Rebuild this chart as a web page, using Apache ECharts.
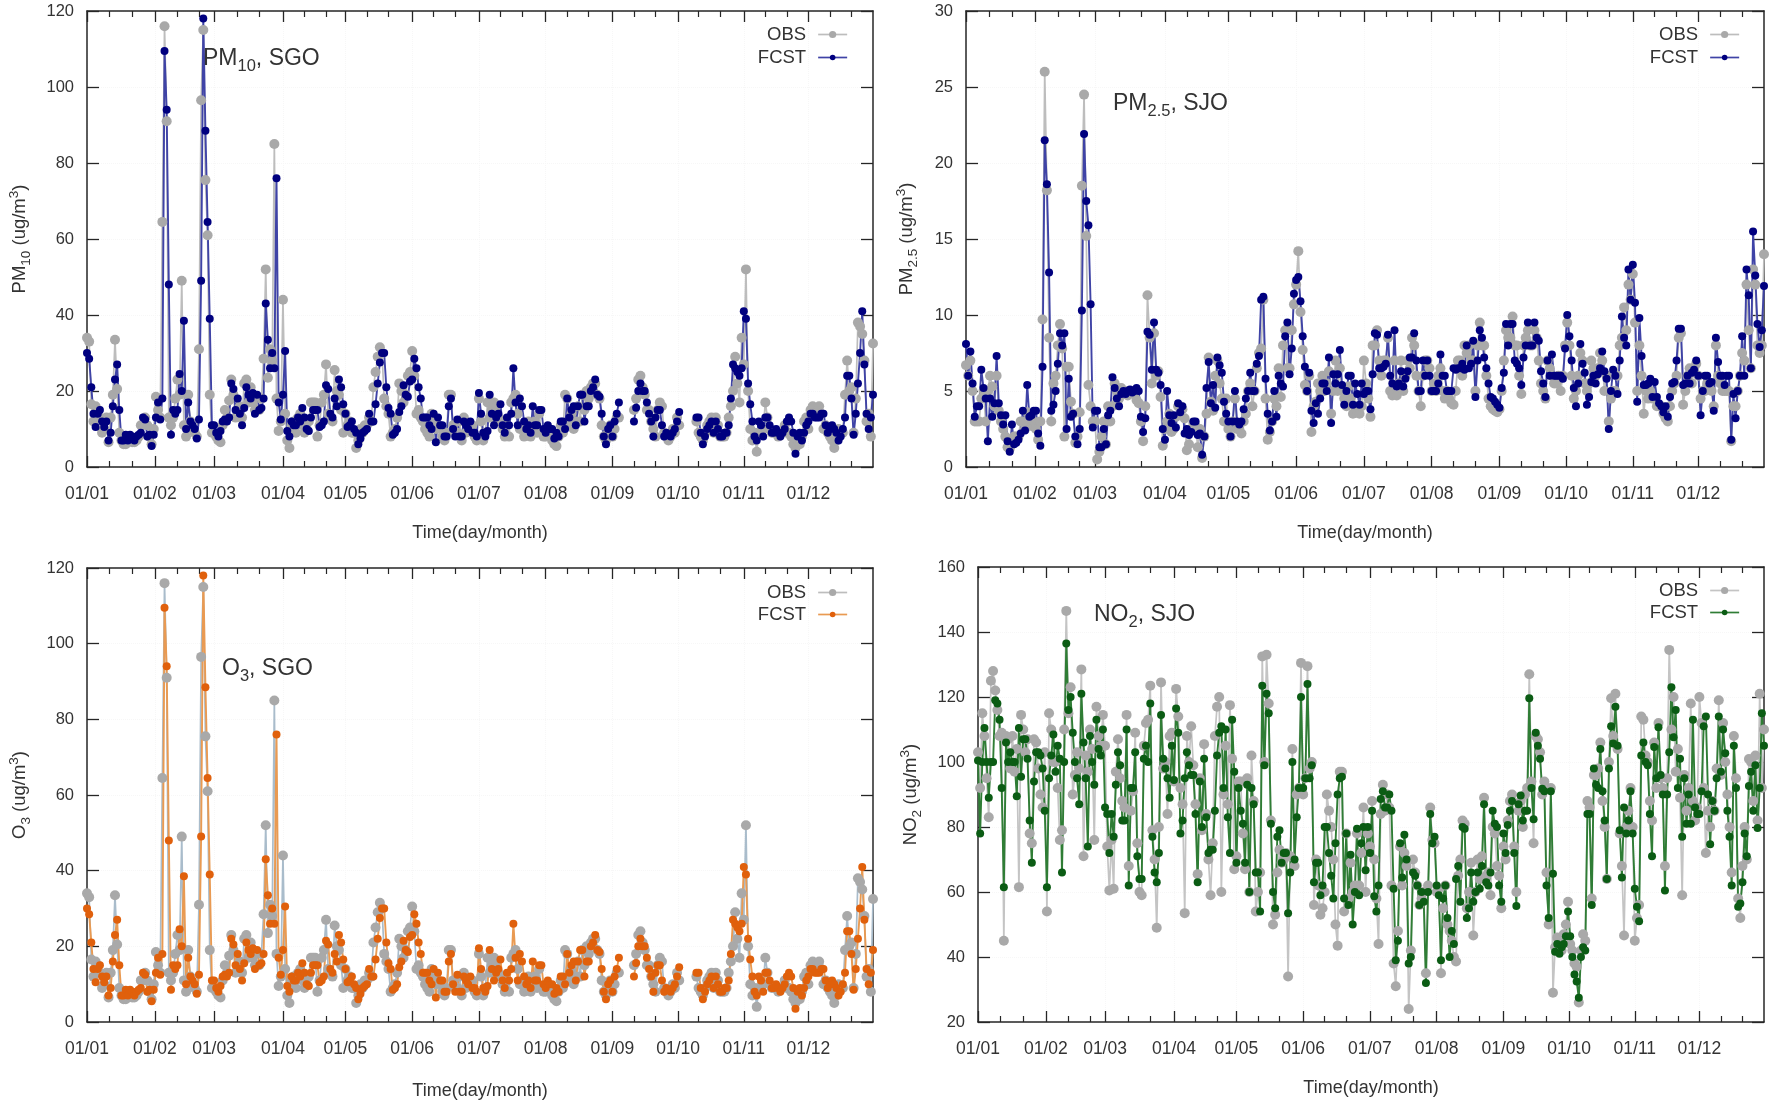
<!DOCTYPE html>
<html><head><meta charset="utf-8">
<style>html,body{margin:0;padding:0;background:#fff}#c{width:1772px;height:1103px;filter:blur(0.45px)}</style>
<script src="https://cdn.jsdelivr.net/npm/echarts@6/dist/echarts.min.js"></script>
</head><body><div id="c"></div>
<script>
const tickLabels=['01/01','01/02','01/03','01/04','01/05','01/06','01/07','01/08','01/09','01/10','01/11','01/12'];
const tickDays=[0,31.5,59,91,120,151,182,213,244,274.5,305,335];
const minorDays=[10.5,21,42,52,70,80,101,111,130,140,161,171,192,202,223,233,254,264,284,294,315,325,345,355];

const pm10Fcst=[
30,28.5,21,14,10.5,14,15,12,10.5,12,
7,9,16,23,27,15,7,7,8.5,7,
8.5,8,7,8,8.5,9,13,12.5,8,8.5,
5.5,8.5,13,17,12.5,18,109.5,94,48,8.5,
15,14,15,24.5,20,38.5,10,17,12,11,
10,7.5,12.5,49,118,88.5,64.5,39,11,11,
9,8,9.5,12,12.5,12,13,22,20.5,15,
18,14,11,15.5,21,19,18,19.5,14,19,
15,15.5,18,43,33.5,26,30,26,76,17,
12.5,19,30.5,9.5,8,12,11,11,13,12,
15.5,13,10,9.5,13,15,15,15,10.5,11,
12,21.5,20.5,14,13,18,16,23,21,16.5,
14,10.5,11,12,10,9,6,7.5,9,9.5,
10,14,12,12,16.5,22,27.5,30,30,21,
15.5,14,8.5,9,10,14.5,16,21.5,19,18.5,
22.5,23,28.5,26,21,18,13,13,13,11,
10,14,6.5,13,11,11,8,8,16,18,
10,8,12.5,8,8,12,11,10,12,9,
9,8,19.5,14,9,8,9.5,19,14,11,
13,14,16.5,11,9,13,11,14,26,17,
11,18,16,12,10,11,9,16,11,11,
15,15,10,9,11,10,10,7.5,9,8,
12,12,10,18,13,15,16,11,16,19,
19,12,16,16,20,21,23,19,18.5,14,
8,6,10,11,8,12,14,17,null,null,
null,null,null,null,12,15.6,20,22,20,20,
17,14,12,8,13,15,15,11,8,9,
8.5,8,9,10,12,14.5,null,null,null,null,
null,null,null,13,13,9,6,8,10,11,
12,9,12,10,8,8,9,9,11,18,
27,26,25,24,26,41,39,22,16.5,12,
8,7,12,11,8,13,13,11,9,9,
10,9,8,9,10,12,13,12,9,3.5,
8,9,7,9,11,12,14,14,13,13,
13,14,14,11,9,10,11,10,9,7,
8,10,13,24,24,18,8.5,14,22,30,
41,27,14,10,13,19];
const pm10Obs=[
34,33,16.5,12,16,15,13,9,10,13,
6.5,13,19,33.5,20.5,9,7,6,6,7,
7,6.5,6.5,7,8,11,11,13,11,8,
6,10,18.5,15,13,64.5,116,91,13,11,
13,18,23,19,49,11,8,19,12,10,
9,8,31,96.5,115,75.5,61,19,9,9,
8,7,6.5,11,15,13,17.5,23,19,13,
14,16,13,22,23,17,21,17,15,15,
15,18,28.5,52,23.5,31,28,85,18,9.5,
12,44,14,7,5,11,12,9,13,14,
11,9,10,12,17,17,17,8,11,17,
19,27,14,13,12,25.5,20,19,15,9,
14,11,12,9,9,5,7,10,9,11,
11,13,12,21,25,29,31.5,30,18,16,
14,8,9,10,13,22,20,17,19,24,
25,30.5,24,14,15,13,12,10,9,8,
14,12,10,11,10,8,7,9,19,19,
11,9,9,12,7,13,9,11,10,11,
8,7,18,12,7,9,17,13,15,17,
16,13,12,10,8,11,8,17,18,19,
14,10,11,8,9,12,8,10,12,9,
14,9,8,8,9,8,7,6,5.5,8,
11,9,19,18,11,14,10,12,16,12,
19,15,20,18,21,22,22,19,18,11,
8,7,9,11,8,10,13,13,null,null,
null,null,null,null,15,18,23,24,21,19,
15,15,12,10,8,15,17,16,9,8,
7,8,10,9,13,11,null,null,null,null,
null,null,null,12,9,8,7,9,11,12,
13,9,13,11,8,8,8,9,13,16,
20,29,22,17,34,27,52,20,10,7,
9,4,9,9,10,17,13,10,9,9,
9,8,9,9,11,9,9,8,6,5,
7,6,8,12,13,10,15,16,14,15,
16,14,10,11,9,8,7,5,7,10,
9,9,19,28,20,21,9,18,38,37,
35,28,12,14,8,32.5];
const pm25Fcst=[
8.1,6,7.6,5.5,3.3,4,4,6.4,5.2,4.5,
1.7,4.5,3.3,4.2,7.3,4.2,3.4,2.8,3.4,1.7,
1,2.8,1.5,1.6,1.8,2.2,3.7,2.4,5.4,3.3,
3.4,3.7,3.7,2.2,1.4,6.6,21.5,18.6,12.8,3.7,
4.1,5,6.8,8.8,8,8.8,2.5,5.8,3.3,3.5,
2,1.5,2.5,10.3,21.9,17.5,15.9,10.7,2.6,3.7,
3.7,1.3,1.3,2.5,1.5,3.4,3.7,5.9,5.2,4.5,
4,4.8,5,4.8,5,5.1,4.9,5,5.2,5,
3.3,2.3,3.2,8.9,8.7,6.4,9.5,6.4,6.2,5.4,
2.5,1.8,5,3.4,2.9,3.4,2.6,4.2,3.6,4,
2.2,2.5,2.1,2.3,3,3,2.1,2.2,0.8,2,
5.2,6.9,4.2,5.4,3.9,7.2,6.7,6.2,4.3,3.5,
3,2,3,5,3,2.8,3,3.8,4.5,5,
6.2,5,5,6.8,7.3,11,11.2,5.8,3.5,2.4,
3,5,3.3,6,5.5,5.3,8.6,9.5,6.1,7.8,
11.4,12.3,12.5,10.9,8.6,6.6,5,6.2,3.7,2.9,
4.2,3.5,4.5,5.5,5.5,5,7.2,2.9,6.1,5.5,
6.1,7.7,5.4,4.1,5,6,6,4.1,5.5,4.8,
4.1,5.5,4.8,5,5,3.8,6.1,8.8,8.7,6.5,
6.5,6.6,6.8,8.7,6,5.5,9,5.3,5.5,6.3,
5.3,5.8,6.3,7.2,7.2,8.8,7,5,5,7,
6,7,6,5,5,5,5.5,7.4,6,6,
5,5,5,6.5,6.4,6.5,6.5,6.8,6.4,8,
6.5,6.8,8.3,4.6,7,9,8.5,7.2,6.5,5.5,
4.6,4.5,4.3,4.1,3.9,5.2,6.2,9.4,8,9.4,
9.4,7,6.8,6.5,5.4,7.2,8,9.5,8,8,
9.5,8.5,8.3,6.3,5.5,4.6,7,6,7.4,6,
6,6,6,5.8,7.8,10,8.6,7,5.2,4,
5.5,8.1,6.8,6.2,4.1,4.6,5.6,6,5.5,6.1,
6.5,7.6,6.3,5.8,2.5,5,6.4,6,4.8,7,
9.9,8.5,8,13,11,13.3,10.8,4.3,9.8,7.3,
5.4,5.4,5.5,5.8,4.6,5.6,4.6,4.2,4,3.6,
4,3.3,4.6,5.5,5.6,7,9.1,9.1,5.4,5.5,
6,5.5,6.2,6.4,7,6,3.4,5,6,6,
5.5,5.6,3.7,8.5,6.9,6,6,5.4,6,6,
1.8,4.8,3.2,5,6,8.6,6,13,11.3,6.5,
15.5,12.6,9.4,7.9,9,11.9];
const pm25Obs=[
6.7,6,7,5,3,3,3,4.5,5,3,
5,6,5.3,4,6,3.7,3,2.5,2,1.3,
1.2,1.5,2,2,2,3,3,2.5,3.6,3,
2.7,3,2.5,1.8,3,9.7,26,18.2,8.5,3,
5.5,6,8,9.4,7.8,2,6.6,6.6,4.3,3.5,
1.6,2,3.6,18.5,24.5,15.2,5.4,4,3,3,
0.5,1,2,3,1.5,4,3,4,5.5,5,
4.5,5.2,4.8,5,4.7,5,5,4.8,4.4,4.2,
3,1.7,4,11.3,8.5,5.5,8.8,6,6.3,4.6,
1.4,2.5,3,3.5,2.3,2.5,3.3,4,4,3.8,
3.2,1.1,1.5,2.5,2.9,2.7,1.3,2.5,0.6,2,
3.5,7.2,4.3,3.7,6,7,5.5,4.5,3,4.5,
2.5,2,3,4.5,2.5,2.5,2.2,3,3.5,5,
5.5,4,5,6.5,7.5,7.8,11,4.5,1.8,2.3,
3,4.5,4,6.5,4.6,8,9,6.5,6.5,9,
10.7,12,14.2,10.2,7.7,5.4,5,6,2.3,4,
4.3,5.5,5,6,5,5.5,6.3,3.5,5,7,
5,6.5,5,4.5,4,5.3,4.5,3.5,4,3.7,
3.5,4,7,5.5,4.5,3.3,8,8,9,7,
6,7,7,8.5,5,4.7,7,4.7,5.5,7,
5,6,7,6.5,8.5,8,6,5,4,6,
7,7,6.5,5,5.5,5,6,6.5,5,4.5,
5,4.5,4.2,4.1,5,7,7,6,8,7.5,
8,7,7,5,8,9.5,8,8,6,4.5,
4,3.8,3.7,3.6,3.8,5,7,9,8.5,8.5,
9.9,8,8,6,4.8,8,8.5,9,8,8,
9,8.5,7,5.5,5,4.5,7,6.5,6,5.5,
5.5,6,5,6,8,9.5,8,6,4.5,5,
6,7.5,7,5.5,5,5.5,7,6.5,6,6.5,
7.5,7,5,6,3,4.5,5,5,6,8,
8.5,10.5,9,12,11,12.7,9.5,5,8,6,
3.5,5,4.5,5,4.5,4.5,4,4,4,3.5,
3.2,3,4,5,5.5,6,8.5,8.8,4.1,5,
6,6.5,5.5,6.5,6.8,6,4.5,5,5,5.5,
5.5,5,4,8,6,5.5,5,5,5,5,
1.7,4,4,5,6,7.5,7,12,9,6.5,
13,12,8,7.5,8,14];
const o3Fcst=pm10Fcst;
const o3Obs=pm10Obs;
const no2Fcst=[
100.5,78,100,110.5,100,89,100,100,119,118,
113,92,61.5,106,100,103,100,100,89.5,110.5,
95.5,107,107,101,82,69,94,103,103,102,
98,85,61.5,95,102,108.5,97,105,101,66,
100,136.5,116,120,109,100,95,87,121,106,
95,74,108,100,93,113,104,102,110,86,
84,72,84,77,93,103,99,82,82,110,
62,92,92,103,71,64,64,101,105,100,
118,77,66,63,72,114.5,101,98,95,89,
105,94.5,116.5,109,78,82,95,103,99,96,
96,84,63,94,80,101,83,72,73,73,
85,102,109,111,92,110,83,72,113,97,
69,92,85,81,69,93,60,92,87,66,
66,54,123.5,99,121,115,81,60,55,77,
79,69,72,72,53.5,66,100,70,83,92,
120,92,95,124,95,99,63,69,69,59,
62,80,80,72,65,58,75,90,95,95.5,
58,78,56,71.5,50,60,79.5,59,75,80,
66.7,80,72,85,58.7,54,62,88.6,91,86,
86,90,85,61,39,45,75,64.5,77.6,70,
38,40,66,65,62,56,60,57,32,60,
84,75,77,62,59,39,58,62,52,40,
48,44,64,68,57,80,79.5,52,55,66,
57,60,66,61,68,87,63,62,66,85,
81,80,62,57,78,72,80.6,85,88,72,
55.7,87,89.7,82,85,85,119.6,92,82.4,109,
105,101,91.8,91,62,52,91,65.6,41.6,44,
41,43,44,46.4,54,46.4,40,34.6,32.5,27.5,
40,43,42,84,84,56,98,93,92,104,
91,82,64,98,111,105.7,117,105,79,64.5,
86,78,82,91,78,61,55.5,51,102,106,
100,99,84,71,104.6,95,110.7,96,90,60.5,
90,103,123,107.6,116,92,101,77,95,81,
90,81,113,86,84,84,91,111,114,90,
74.7,88,85,95,114,97,110,102.7,85,77,
62,105,92,55.5,56.5,63,78,71,92.6,97,
85,99,79.7,92,115,105];
const no2Obs=[
103,92,115,108,95,83,125,128,122,116,
108,109,45,108,107,98,108,97,104,61.5,
114.5,110,103,107,78,75,107,106,98,90,
86,103,54,115,110,100,100,92,76,79,
110,146.5,115,123,90,96,103,98,128.5,71,
102,97,110,104,76,117,108,105,114.5,105,
74,60.5,76,61,97,107,95,88,86,114.5,
68,85,91,109,75,60,59,105,112,113,
123.5,79,70,49,80,124.5,98,100,84,108,
109,94,122.5,114,92,87,53.5,108,100,111,
99,87,65.5,95,79,105.5,84,70,59,75,
108,117,120,60,90,105,87,117.5,101,67,
71,94,94,78,67,95,60,102,88,54,
60,66,132.5,100,133,118,82,50,53,66,
73,69,70,72,34,71,104,68,90,92,
130.5,90,95,129.5,98,100,56,70,62,53,
55,60,90,85,80,70,50,43.5,97,97,
54,78,58,69,60,62,78,62,72,86,
60,78,74,88,70,58,44,84,93,85,
90,86,62,38,31,48,74,62,72,68,
24,42,70,66,62,56,58,60,35,62,
86,76,75,60,61,35,55,62,50,48,
45,40,38.6,65,70,82,81,55,60,69,
46.6,60,70,64,71,89,65,66,59,80,
78,68,65,55,74,70,82,88,90,74,
60,85,88,80,90,92,127,94,75,108,
107,103,90,94,66,50,92,29,43,46,
45,42,47,50,57,44,42,38,37,26,
42,47,45,88,86,58,96,96,98,106,
88,80,64,100,119.6,108,121,104,78,68,
46.6,80,85,92,80,45,52,56,114,113,
102,100,88,82,106,92,112,95,92,68,
95,134.5,110,120,97,104,89,59,96,85,
92,118,88,82,86,120,112,92,72,85,
80,88,85,98,119,96,112,100,90,80,
66,108,95,58,52,68,80,70,100.9,100,
88,102,82,121,92,110];

const FONT='"Liberation Sans",Arial,sans-serif', TXT='#333', FRAME='#262626';
const panels=[
 {g:[87,11,786,456],yMin:0,yMax:120,yInt:20,obs:pm10Obs,fcst:pm10Fcst,name:'PM{s|10} (ug/m{p|3})',gap:54,xGap:57,
  tag:'PM{s|10}, SGO',tx:203,ty:43,mark:'#00007f',line:'#3f43a6',obsLine:'#bdbdbd',legR:924,legT:[25,48]},
 {g:[966,11,798,456],yMin:0,yMax:30,yInt:5,obs:pm25Obs,fcst:pm25Fcst,name:'PM{s|2.5} (ug/m{p|3})',gap:46,xGap:57,
  tag:'PM{s|2.5}, SJO',tx:1113,ty:88,mark:'#00007f',line:'#3f43a6',obsLine:'#bdbdbd',legR:32,legT:[25,48]},
 {g:[87,568,786,454],yMin:0,yMax:120,yInt:20,obs:o3Obs,fcst:o3Fcst,name:'O{s|3} (ug/m{p|3})',gap:54,xGap:60,
  tag:'O{s|3}, SGO',tx:222,ty:653,mark:'#e0600c',line:'#e99a52',obsLine:'#a9bccb',legR:924,legT:[583,605]},
 {g:[978,567,786,455],yMin:20,yMax:160,yInt:20,obs:no2Obs,fcst:no2Fcst,name:'NO{s|2} (ug/m{p|3})',gap:54,xGap:57,
  tag:'NO{s|2}, SJO',tx:1094,ty:599,mark:'#0b5c14',line:'#2f7d35',obsLine:'#c4c4c4',legR:32,legT:[581,603]}
];
const grid=[],xAxis=[],yAxis=[],series=[],legend=[],title=[];
const richSub=(fs)=>({s:{fontSize:fs,verticalAlign:'bottom',lineHeight:fs+12,fontFamily:FONT,color:TXT},
                      p:{fontSize:fs,verticalAlign:'top',lineHeight:fs+12,fontFamily:FONT,color:TXT}});
panels.forEach((p,i)=>{
  grid.push({left:p.g[0],top:p.g[1],width:p.g[2],height:p.g[3],containLabel:false});
  const xMax=p.obs.length-1;
  const base={type:'value',gridIndex:i,min:0,max:xMax,scale:false};
  const base0=xAxis.length;
  xAxis.push({...base,position:'bottom',
    name:'Time(day/month)',nameLocation:'middle',nameGap:p.xGap,
    nameTextStyle:{fontFamily:FONT,fontSize:18,color:TXT},
    axisLine:{show:true,onZero:false,lineStyle:{color:FRAME,width:1.5}},
    axisTick:{show:true,inside:true,length:11,lineStyle:{color:FRAME,width:1.3},customValues:tickDays},
    axisLabel:{show:true,margin:18,fontFamily:FONT,fontSize:17.5,color:TXT,customValues:tickDays,hideOverlap:false,showMinLabel:true,showMaxLabel:true,
      formatter:v=>tickLabels[tickDays.indexOf(v)]||''},
    splitLine:{show:true,lineStyle:{color:'#f7f7f7',type:'dotted',width:1}}});
  xAxis.push({...base,position:'top',
    axisLine:{show:true,onZero:false,lineStyle:{color:FRAME,width:1.5}},
    axisTick:{show:true,inside:true,length:11,lineStyle:{color:FRAME,width:1.3},customValues:tickDays},
    axisLabel:{show:false},splitLine:{show:false}});
  ['bottom','top'].forEach(pos=>xAxis.push({...base,position:pos,
    axisLine:{show:false,onZero:false},
    axisTick:{show:true,inside:true,length:6,lineStyle:{color:FRAME,width:1.2},customValues:minorDays},
    axisLabel:{show:false},splitLine:{show:false}}));
  const ybase={type:'value',gridIndex:i,min:p.yMin,max:p.yMax,interval:p.yInt,
    axisLine:{show:true,onZero:false,lineStyle:{color:FRAME,width:1.5}},
    axisTick:{show:true,inside:true,length:12,lineStyle:{color:FRAME,width:1.3}}};
  const y0=yAxis.length;
  yAxis.push({...ybase,position:'left',
    name:p.name,nameLocation:'middle',nameGap:p.gap,nameRotate:90,
    nameTextStyle:{fontFamily:FONT,fontSize:18.5,color:TXT,rich:richSub(13.5)},
    axisLabel:{show:true,margin:13,fontFamily:FONT,fontSize:16.5,color:TXT},
    splitLine:{show:true,lineStyle:{color:'#f7f7f7',type:'dotted',width:1}}});
  yAxis.push({...ybase,position:'right',axisLabel:{show:false},splitLine:{show:false}});
  const mk=(name,vals,sz,mark,line,w)=>({type:'line',name,xAxisIndex:base0,yAxisIndex:y0,
    data:vals.map((v,d)=>[d,v]),connectNulls:false,clip:false,animation:false,
    symbol:'circle',symbolSize:sz,showSymbol:true,showAllSymbol:true,
    itemStyle:{color:mark},lineStyle:{color:line,width:w},emphasis:{disabled:true}});
  series.push(mk('OBS',p.obs,10,'#a9a9a9',p.obsLine,1.7));
  series.push(mk('FCST',p.fcst,8,p.mark,p.line,1.9));
  [['OBS','#a9a9a9',p.obsLine==='#a9bccb'?'#bdbdbd':p.obsLine,9],['FCST',p.mark,p.line,7]].forEach((it,j)=>{
    legend.push({show:true,selectedMode:false,orient:'vertical',align:'right',right:p.legR,top:p.legT[j],padding:0,
      itemWidth:29,itemHeight:it[3],itemGap:0,
      textStyle:{fontFamily:FONT,fontSize:18.5,color:TXT,padding:[0,7,0,0]},
      data:[{name:it[0],icon:'',itemStyle:{color:it[1]},lineStyle:{color:it[2],width:1.7}}]});
  });
  title.push({text:p.tag,left:p.tx,top:p.ty,padding:0,
    textStyle:{fontFamily:FONT,fontSize:23,fontWeight:'normal',color:TXT,rich:{s:{fontSize:16.5,verticalAlign:'bottom',lineHeight:32,fontFamily:FONT,color:TXT}}}});
});
const chart=echarts.init(document.getElementById('c'));
chart.setOption({animation:false,backgroundColor:'#fff',grid,xAxis,yAxis,series,legend,title,tooltip:{show:false}});
</script></body></html>
